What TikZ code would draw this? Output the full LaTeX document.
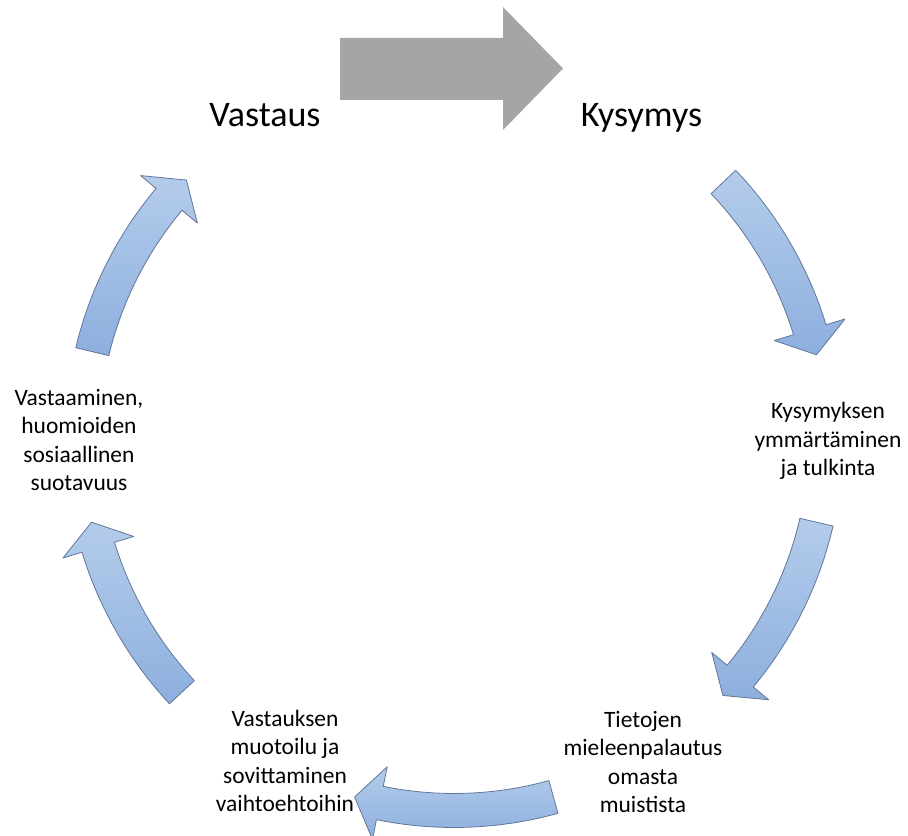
\documentclass[tikz,border=0pt]{standalone}
\usepackage{fontspec}
\setmainfont{Carlito}
\usetikzlibrary{calc}
\definecolor{arrowgray}{HTML}{A5A5A5}
\definecolor{blueTop}{HTML}{B4CCEB}
\definecolor{blueBot}{HTML}{8DAFDE}
\definecolor{blueLine}{HTML}{62769A}
\tikzset{
  bigtext/.style={font=\fontsize{27}{32}\selectfont, inner sep=0pt, anchor=base},
  steptext/.style={font=\fontsize{17.6}{21.2}\selectfont, align=center, inner sep=0pt},
  cyclearrow/.style={top color=blueTop, bottom color=blueBot, draw=blueLine, line width=0.6pt, line join=round},
}
\newcommand{\cyclearc}[2]{% #1 = tail angle, #2 = tip angle (clockwise)
  \pgfmathsetmacro\hb{#2+4}
  \path[cyclearrow] (#1:389) arc[start angle=#1, end angle=\hb, radius=389]
     -- (\hb:409) -- (#2:372) -- (\hb:335) -- (\hb:355)
     arc[start angle=\hb, end angle=#1, radius=355] -- cycle;
}
\begin{document}
\begin{tikzpicture}[x=0.75pt, y=0.75pt]
\useasboundingbox (0,0) rectangle (908,836);
% gray arrow
\fill[arrowgray] (340,798) -- (503,798) -- (503,829) -- (563,767.5) -- (503,706) -- (503,736) -- (340,736) -- cycle;
% labels
\node[bigtext] (vastaus) at (265,709) {Vastaus};
\node[bigtext] (kysymys) at (641.5,709) {Kysymys};
\node[steptext] (ymmarrys) at (828,395) {Kysymyksen\\ymmärtäminen\\ja tulkinta};
\node[steptext] (tietojen) at (643,74) {Tietojen\\mieleenpalautus\\omasta\\muistista};
\node[steptext] (muotoilu) at (285,75) {Vastauksen\\muotoilu ja\\sovittaminen\\vaihtoehtoihin};
\node[steptext] (vastaaminen) at (79,396) {Vastaaminen,\\huomioiden\\sosiaallinen\\suotavuus};
% cycle arrows
\begin{scope}[shift={(454,397.5)}]
  \cyclearc{43.6}{13.0}
  \cyclearc{-13.0}{-43.7}
  \cyclearc{-74.5}{-105.5}
  \cyclearc{-137}{-167}
  \cyclearc{166.5}{136}
\end{scope}
\end{tikzpicture}
\end{document}
